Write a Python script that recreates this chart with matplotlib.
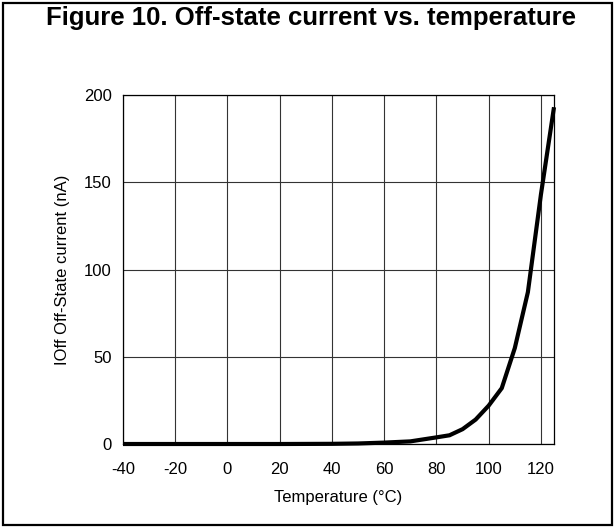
import matplotlib
matplotlib.use("Agg")
import matplotlib.pyplot as plt
from matplotlib.patches import Rectangle

plt.rcParams['font.family'] = ['Liberation Sans', 'DejaVu Sans']

temperature = [-40, -20, 0, 20, 40, 50, 60, 70, 80, 85, 90, 95, 100, 105, 110, 115, 120, 125]
ioff_na = [0, 0, 0, 0, 0.1, 0.3, 0.8, 1.5, 3.8, 5, 8.5, 14, 22, 32, 55, 87, 143, 193]
x_ticks = [-40, -20, 0, 20, 40, 60, 80, 100, 120]
y_ticks = [0, 50, 100, 150, 200]

W, H = 614, 527
fig = plt.figure(figsize=(W / 100, H / 100), dpi=100)
fig.patch.set_facecolor('white')

# outer frame
fig.patches.append(Rectangle((2.5 / W, 2.5 / H), (W - 5) / W, (H - 5) / H,
                             transform=fig.transFigure, fill=False,
                             edgecolor='black', linewidth=1.6))

left, right, top, bottom = 123, 554, 95, 444
ax = fig.add_axes([left / W, 1 - bottom / H, (right - left) / W, (bottom - top) / H])

ax.plot(temperature, ioff_na, color='black', linewidth=3.0, clip_on=False,
        solid_joinstyle='miter', solid_capstyle='butt', zorder=3)

ax.set_xlim(-40, 125)
ax.set_ylim(0, 200)
ax.set_xticks(x_ticks)
ax.set_yticks(y_ticks)
ax.set_xticklabels([str(v) for v in x_ticks])
ax.set_yticklabels([str(v) for v in y_ticks])
ax.tick_params(length=0, labelsize=12, colors='black')
ax.tick_params(axis='y', pad=8)
ax.tick_params(axis='x', pad=13)
ax.grid(True, color='#333333', linewidth=0.8)
ax.set_axisbelow(True)
for s in ax.spines.values():
    s.set_color('black')
    s.set_linewidth(0.9)

ax.set_xlabel('Temperature (°C)', fontsize=12, labelpad=9)
ax.set_ylabel('IOff Off-State current (nA)', fontsize=12, labelpad=10)

fig.text(310.5 / W, 1 - 18 / H,
         'Figure 10. Off-state current vs. temperature',
         ha='center', va='center', fontsize=18.5, fontweight='bold')

fig.savefig('out.png', dpi=100)
